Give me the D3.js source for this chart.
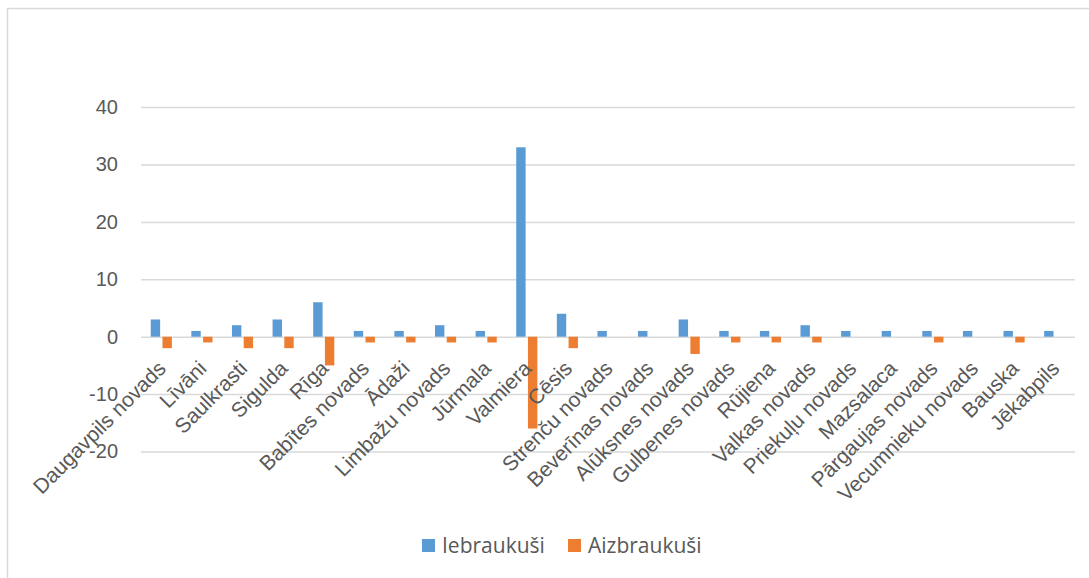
<!DOCTYPE html>
<html>
<head>
<meta charset="utf-8">
<script src="https://cdn.jsdelivr.net/npm/d3@7"></script>
<style>
  body { margin: 0; background: #fff; }
  svg { display: block; font-family: "Open Sans", "Noto Sans", sans-serif; }
</style>
</head>
<body>
<div id="chart"></div>
<script>
const categories = ["Daugavpils novads", "Līvāni", "Saulkrasti", "Sigulda", "Rīga", "Babītes novads",
  "Ādaži", "Limbažu novads", "Jūrmala", "Valmiera", "Cēsis", "Strenču novads", "Beverīnas novads",
  "Alūksnes novads", "Gulbenes novads", "Rūjiena", "Valkas novads", "Priekuļu novads", "Mazsalaca",
  "Pārgaujas novads", "Vecumnieku novads", "Bauska", "Jēkabpils"];
const iebraukusi = [3, 1, 2, 3, 6, 1, 1, 2, 1, 33, 4, 1, 1, 3, 1, 1, 2, 1, 1, 1, 1, 1, 1];
const aizbraukusi = [-2, -1, -2, -2, -5, -1, -1, -1, -1, -16, -2, 0, 0, -3, -1, -1, -1, 0, 0, -1, 0, -1, 0];
const seriesNames = ["Iebraukuši", "Aizbraukuši"];
const yTicks = [-20, -10, 0, 10, 20, 30, 40];

const W = 1089, H = 578;
const colors = ["#5B9BD5", "#ED7D31"];
const textColor = "#595959";
const gridColor = "#D9D9D9";

const plot = {left: 141, right: 1075, top: 107.1, bottom: 451.5};

const svg = d3.select("#chart").append("svg")
    .attr("width", W)
    .attr("height", H);

// chart border (top + left visible)
svg.append("line").attr("x1", 7).attr("x2", W).attr("y1", 8.5).attr("y2", 8.5)
    .attr("stroke", gridColor).attr("stroke-width", 1.5);
svg.append("line").attr("x1", 7.5).attr("x2", 7.5).attr("y1", 8).attr("y2", H)
    .attr("stroke", gridColor).attr("stroke-width", 1.5);

// setup x
let x0 = d3.scaleBand().domain(categories)
    .range([plot.left, plot.right])
    .paddingInner(0.48).paddingOuter(0.24);
let x1 = d3.scaleBand().domain(seriesNames)
    .range([0, x0.bandwidth()])
    .paddingInner(0.2);

// setup y
let y = d3.scaleLinear().domain([-20, 40]).range([plot.bottom, plot.top]);

// grid lines
let yAxis = d3.axisLeft(y).tickValues(yTicks)
    .tickSize(-(plot.right - plot.left)).tickPadding(23)
    .tickFormat(function(d) { return String(d); }); // plain hyphen minus like Excel
let gy = svg.append("g")
    .attr("class", "y axis")
    .attr("transform", "translate(" + plot.left + ",0)")
    .call(yAxis);
gy.select(".domain").remove();
gy.selectAll(".tick line").attr("stroke", gridColor).attr("stroke-width", 1.5);
gy.selectAll(".tick text")
    .attr("fill", textColor)
    .style("font-size", "20px");

// bars
let data = [iebraukusi, aizbraukusi];
data.forEach(function(vals, s) {
  svg.append("g").selectAll("rect")
      .data(vals)
    .enter().append("rect")
      .attr("x", function(d, i) { return x0(categories[i]) + x1(seriesNames[s]); })
      .attr("width", x1.bandwidth())
      .attr("y", function(d) { return y(Math.max(0, d)); })
      .attr("height", function(d) { return Math.abs(y(d) - y(0)); })
      .attr("fill", colors[s]);
});

// category labels (axis crosses at 0)
let xAxis = d3.axisBottom(x0).tickSize(0).tickPadding(0);
let gx = svg.append("g")
    .attr("class", "x axis")
    .attr("transform", "translate(0," + y(0) + ")")
    .call(xAxis);
gx.select(".domain").remove();
gx.selectAll(".tick text")
    .attr("fill", textColor)
    .style("font-size", "21px")
    .style("text-anchor", "end")
    .attr("dy", null)
    .attr("y", 0)
    .attr("transform", "translate(6,33) rotate(-45)");

// legend
let legend = svg.append("g").attr("class", "legend");
let legendX = [422, 568];
seriesNames.forEach(function(name, s) {
  legend.append("rect")
      .attr("x", legendX[s]).attr("y", 539)
      .attr("width", 13).attr("height", 13)
      .attr("fill", colors[s]);
  legend.append("text")
      .attr("x", legendX[s] + 20).attr("y", 553)
      .attr("fill", textColor)
      .style("font-size", "21px")
      .text(name);
});
</script>
</body>
</html>
